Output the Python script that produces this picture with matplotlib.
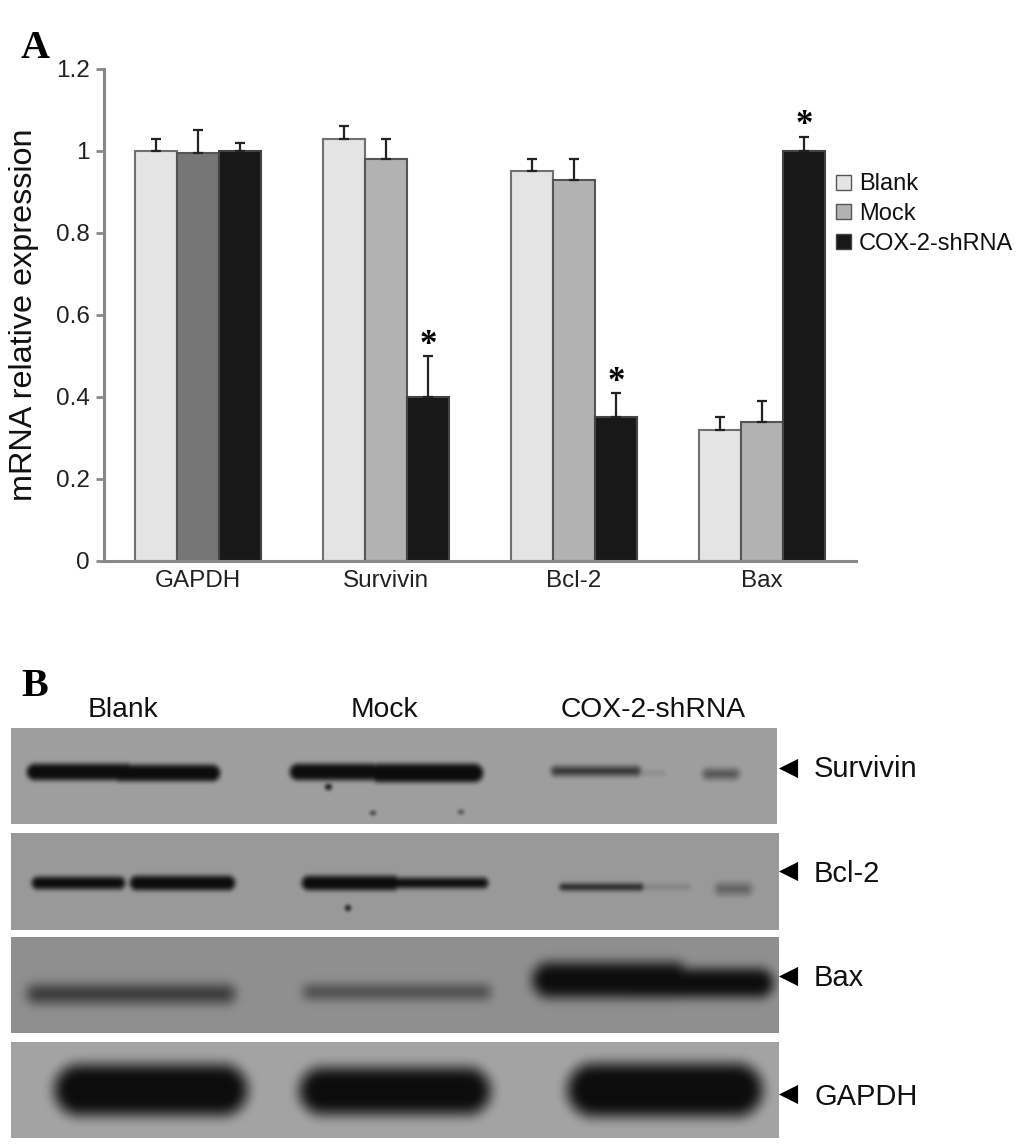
import numpy as np
import matplotlib
matplotlib.use('Agg')
from matplotlib import pyplot as plt
from matplotlib.patches import Patch

plt.rcParams['font.family'] = ['Liberation Sans', 'DejaVu Sans']

genes = ['GAPDH', 'Survivin', 'Bcl-2', 'Bax']
groups = ['Blank', 'Mock', 'COX-2-shRNA']
blank = [1.0, 1.03, 0.95, 0.32]
mock = [0.995, 0.98, 0.93, 0.34]
shrna = [1.0, 0.40, 0.35, 1.0]
blank_err = [0.03, 0.03, 0.03, 0.03]
mock_err = [0.055, 0.05, 0.05, 0.05]
shrna_err = [0.02, 0.10, 0.06, 0.035]
yticks = [0, 0.2, 0.4, 0.6, 0.8, 1, 1.2]
ytick_labels = ['0', '0.2', '0.4', '0.6', '0.8', '1', '1.2']

# blot panels: name, top, bottom, right, background grey, blur
blot_names = ['Survivin', 'Bcl-2', 'Bax', 'GAPDH']
blot_top = [728, 833, 937, 1042]
blot_bottom = [824, 930, 1033, 1138]
blot_right = [777, 779, 779, 779]
blot_bg = [0.62, 0.60, 0.56, 0.64]
blot_blur = [1.6, 1.6, 4, 4]
arrow_y = [768, 871, 976, 1094]
label_y = [769, 874, 978, 1097]
# bands: x0, x1, y, half thickness, darkness, edge softness
blot_bands = [
    [(27, 135, 772, 8, 1.0, 3), (112, 220, 773, 8, 1.0, 3), (290, 380, 772, 8, 1.0, 3),
     (370, 483, 773, 9, 1.0, 3), (552, 640, 771, 4, 0.8, 4), (630, 665, 773, 2, 0.15, 3),
     (704, 738, 774, 4, 0.6, 5), (325, 332, 787, 3, 0.9, 1), (370, 376, 813, 2, 0.7, 1),
     (458, 464, 812, 2, 0.6, 1)],
    [(32, 125, 883, 6, 1.0, 3), (130, 235, 883, 7, 1.0, 3), (302, 400, 883, 7, 1.0, 3),
     (390, 488, 883, 5, 1.0, 3), (560, 643, 887, 3, 0.9, 3), (640, 690, 887, 2, 0.2, 3),
     (717, 750, 889, 4, 0.5, 6), (345, 351, 908, 3, 0.9, 1)],
    [(28, 234, 994, 8, 0.72, 7), (304, 490, 992, 6, 0.6, 6), (533, 690, 980, 17, 1.0, 7),
     (620, 773, 983, 14, 1.0, 6)],
    [(55, 247, 1090, 25, 1.0, 8), (300, 490, 1091, 23, 1.0, 8), (568, 762, 1090, 26, 1.0, 8)],
]

fig = plt.figure(figsize=(10.33, 11.48), dpi=100)

# whole figure overlay in pixel units for blots and labels
page = fig.add_axes([0, 0, 1, 1])
page.axis('off')

for i in range(4):
    top, bottom, right = blot_top[i], blot_bottom[i], blot_right[i]
    xx, yy = np.meshgrid(np.arange(11, right) + 0.5, np.arange(top, bottom) + 0.5)
    dark = np.zeros(xx.shape)
    for x0, x1, yc, ht, d, soft in blot_bands[i]:
        dx = np.maximum(np.abs(xx - (x0 + x1) / 2) - (x1 - x0) / 2 + ht, 0)
        dist = np.hypot(dx, yy - yc) - ht
        dark = np.maximum(dark, d * np.clip(0.5 - dist / (2 * soft), 0, 1))
    # blur along both directions so the bands look like film
    r = int(3 * blot_blur[i])
    kernel = np.exp(-0.5 * (np.arange(-r, r + 1) / blot_blur[i]) ** 2)
    kernel = kernel / kernel.sum()
    dark = np.apply_along_axis(lambda v: np.convolve(v, kernel, mode='same'), 0, dark)
    dark = np.apply_along_axis(lambda v: np.convolve(v, kernel, mode='same'), 1, dark)
    img = blot_bg[i] * (1 - dark) + 0.05 * dark
    page.imshow(img, cmap='gray', vmin=0, vmax=1, extent=[11, right, bottom, top],
                aspect='auto', interpolation='bilinear')
    page.scatter([788], [arrow_y[i]], marker='<', s=190, color='black', linewidths=0)
    page.text(814, label_y[i], blot_names[i], fontsize=21, va='center', color='#111111')
page.set_xlim(0, 1033)
page.set_ylim(1148, 0)

page.text(123, 710, 'Blank', fontsize=20.3, ha='center', va='center', color='#111111')
page.text(384, 710, 'Mock', fontsize=20.3, ha='center', va='center', color='#111111')
page.text(653, 710, 'COX-2-shRNA', fontsize=20.3, ha='center', va='center', color='#111111')
page.text(21, 48, 'A', fontsize=29, fontweight='bold', family='Liberation Serif', va='center')
page.text(21, 687, 'B', fontsize=29, fontweight='bold', family='Liberation Serif', va='center')

# bar chart
ax = fig.add_axes([104 / 1033, 1 - 561 / 1148, 752 / 1033, 492 / 1148])
ax.patch.set_alpha(0)
x = np.arange(4)
w = 42 / 188
blank_colors = ['#e4e4e4'] * 4
mock_colors = ['#767676', '#b2b2b2', '#b2b2b2', '#b2b2b2']
no_err = [0, 0, 0, 0]
err_style = dict(ecolor='#222222', elinewidth=1.6, capsize=3.6, capthick=1.6)
ax.bar(x - w, blank, w, color=blank_colors, edgecolor='#707070', linewidth=1.5,
       yerr=[no_err, blank_err], error_kw=err_style)
ax.bar(x, mock, w, color=mock_colors, edgecolor='#555555', linewidth=1.5,
       yerr=[no_err, mock_err], error_kw=err_style)
ax.bar(x + w, shrna, w, color='#181818', edgecolor='#444444', linewidth=1.5,
       yerr=[no_err, shrna_err], error_kw=err_style)

for i in [1, 2, 3]:
    ax.text(x[i] + w, shrna[i] + shrna_err[i] + 0.036, '*', family='Liberation Serif', fontweight='bold',
            fontsize=25, ha='center', va='center_baseline')

ax.set_xlim(-0.5, 3.5)
ax.set_ylim(0, 1.2)
ax.set_yticks(yticks)
ax.set_yticklabels(ytick_labels, fontsize=17.5, color='#222222')
ax.set_xticks(x)
ax.set_xticklabels(genes, fontsize=17.5, color='#222222')
ax.tick_params(axis='x', length=0, pad=6.5)
ax.tick_params(axis='y', length=5.5, width=2, color='#888888', pad=5)
ax.spines['top'].set_visible(False)
ax.spines['right'].set_visible(False)
ax.spines['left'].set_color('#888888')
ax.spines['bottom'].set_color('#888888')
ax.spines['left'].set_linewidth(2.2)
ax.spines['bottom'].set_linewidth(2.2)
ax.set_ylabel('mRNA relative expression', fontsize=23.3, color='#111111')
ax.yaxis.set_label_coords(-65 / 752, 0.5)

handles = [Patch(facecolor='#e4e4e4', edgecolor='#555555', label=groups[0]),
           Patch(facecolor='#b2b2b2', edgecolor='#555555', label=groups[1]),
           Patch(facecolor='#181818', edgecolor='#444444', label=groups[2])]
fig.legend(handles=handles, loc='upper left', bbox_to_anchor=(834 / 1033, 1 - 171 / 1148), frameon=False,
           fontsize=17, handlelength=0.6, handleheight=0.6, handletextpad=0.35, labelspacing=0.33,
           borderpad=0.1, borderaxespad=0, labelcolor='#111111')

fig.savefig('out.png', dpi=100)
